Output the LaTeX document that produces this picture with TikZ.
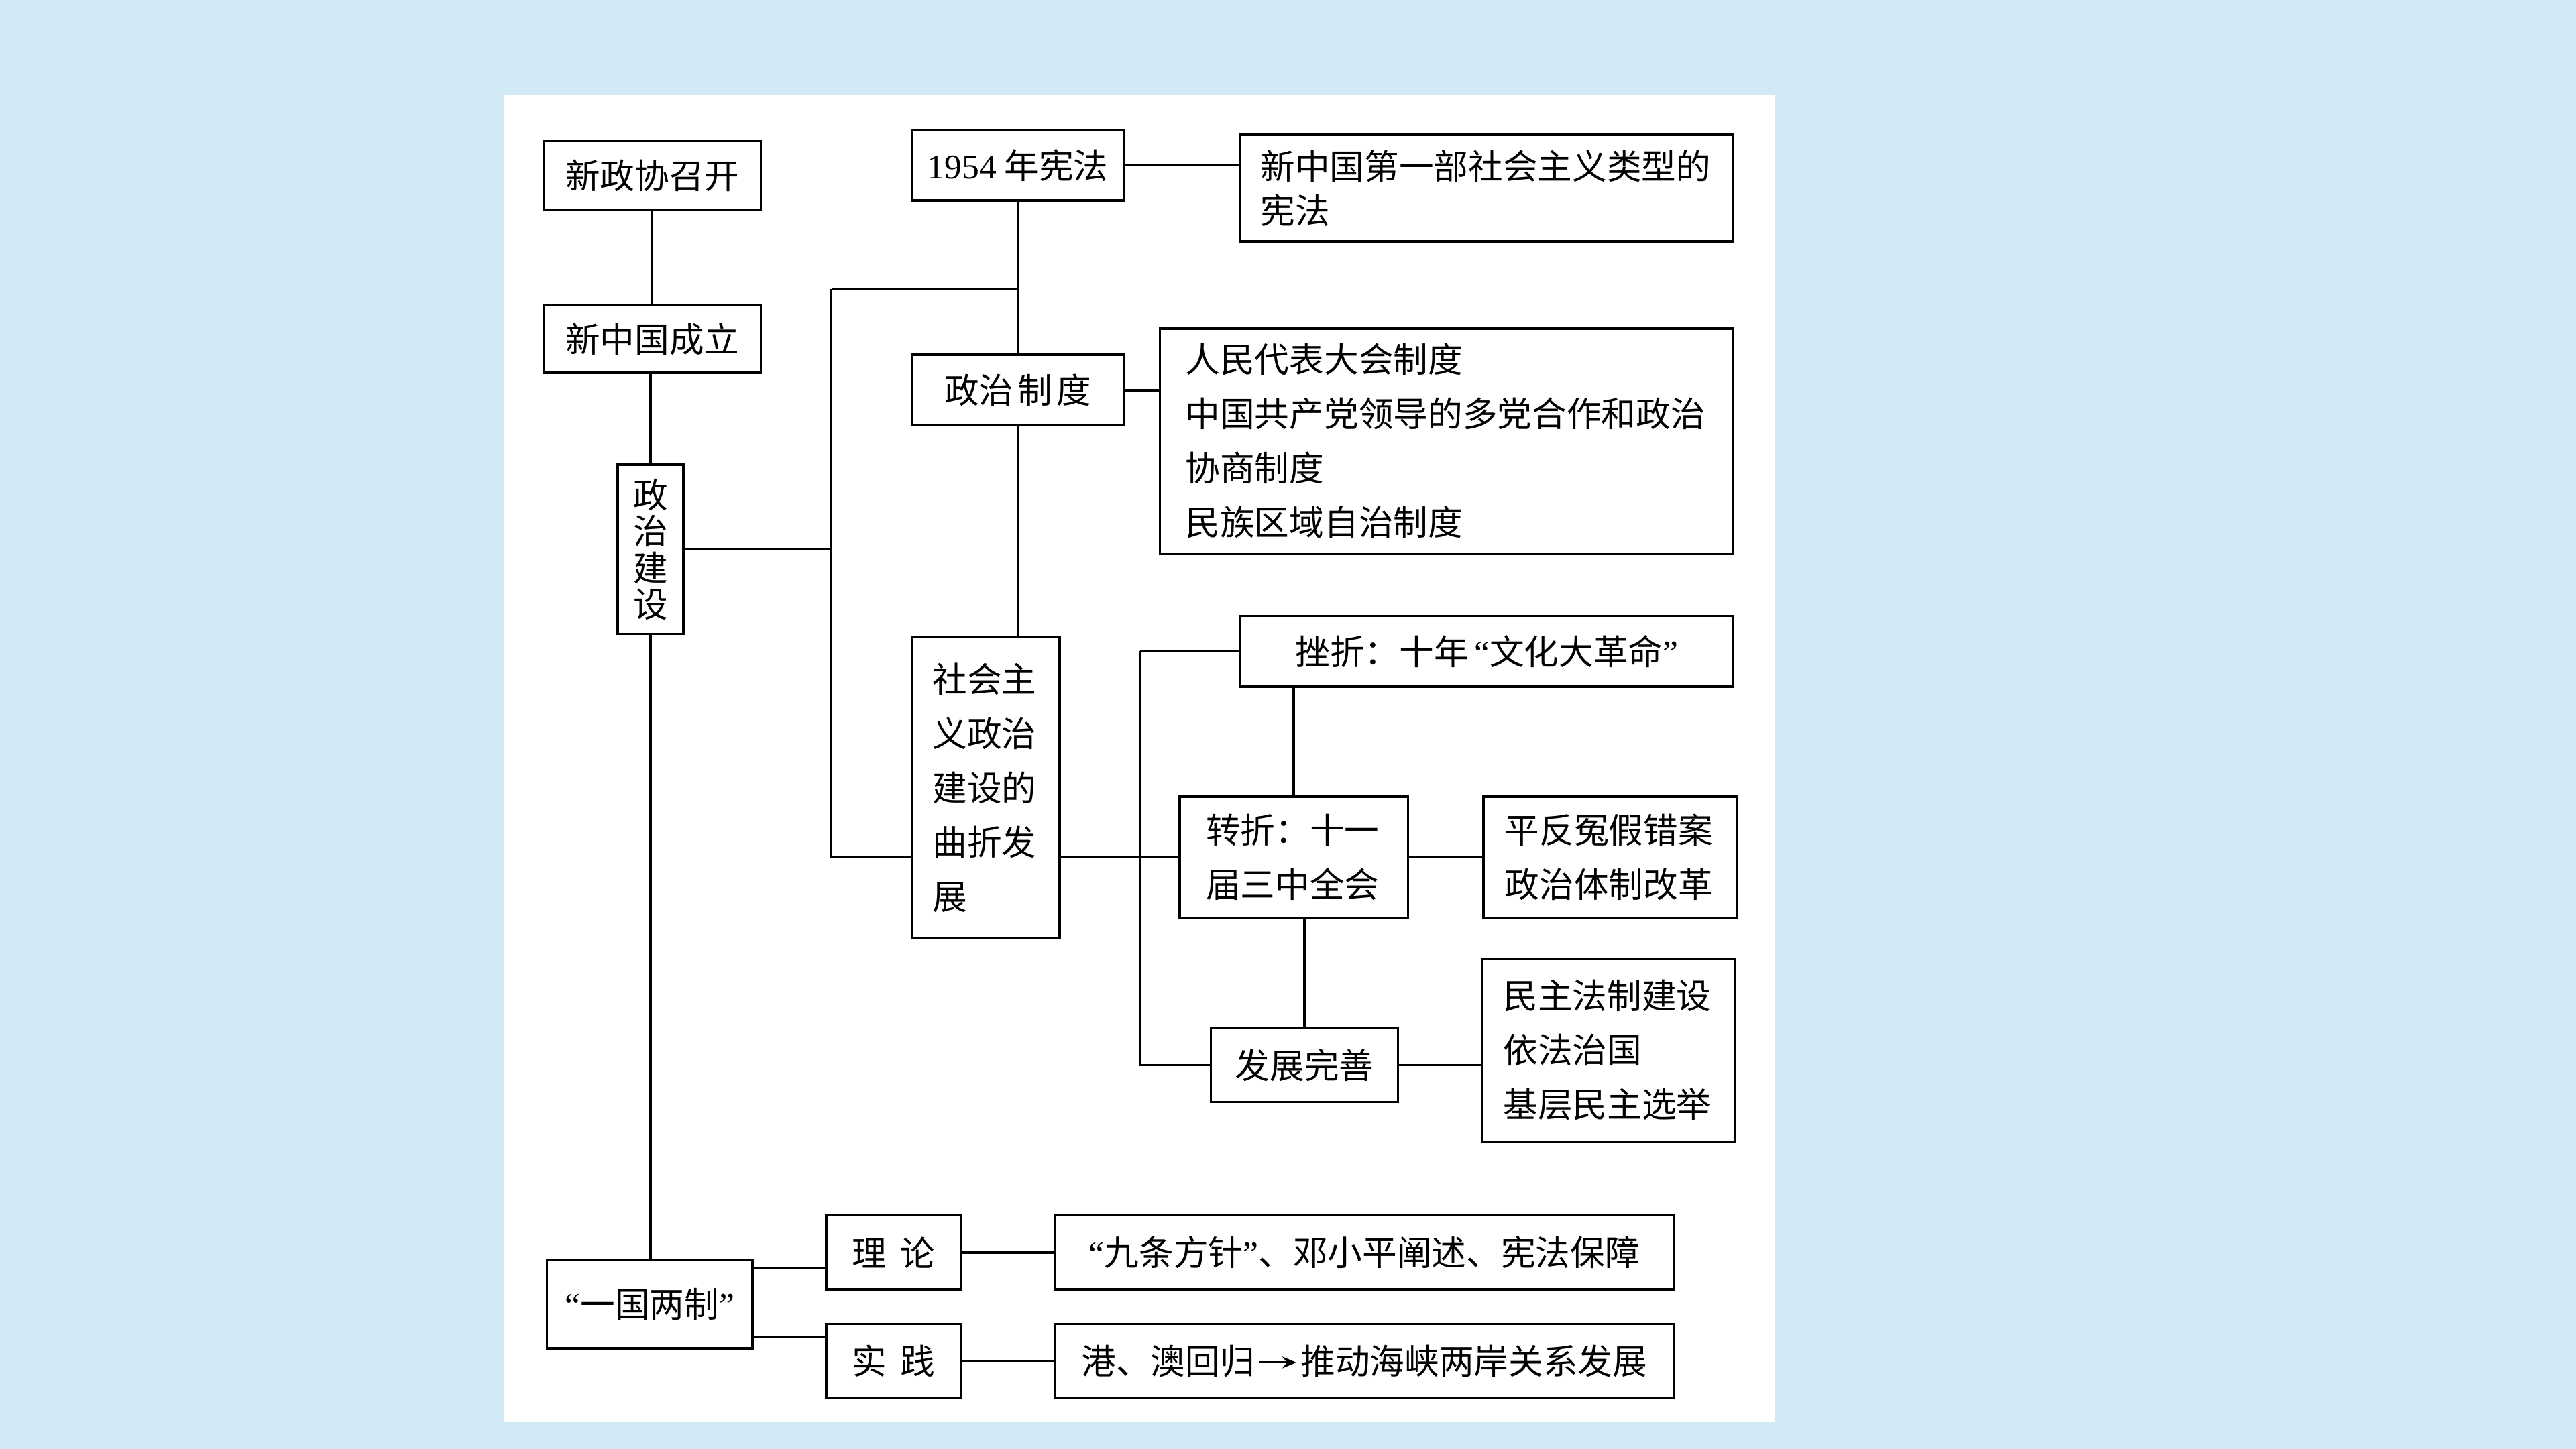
\documentclass[tikz,border=0pt]{standalone}
\usepackage{fontspec}
\setmainfont{Liberation Serif}
\newfontfamily\cjk{Noto Sans CJK SC}
\usetikzlibrary{arrows.meta,calc}
\definecolor{bgblue}{HTML}{D2EAF5}
\newcommand\qL{{\rmfamily “}}
\newcommand\qR{{\rmfamily ”}}
\newcommand\inarrow{\tikz[x=1pt,y=1pt,baseline=-5pt]\draw[line width=0.9pt,-{Stealth[length=6pt,width=5pt]}] (0,0)--(16,0);}
\begin{document}
\begin{tikzpicture}[x=0.025cm,y=-0.025cm,
  box/.style={draw, line width=1pt, fill=white, inner sep=0pt, font=\cjk\fontsize{15}{23.5}\selectfont},
  conn/.style={line width=1pt}]
\fill[bgblue] (0,0) rectangle (1568,882);
\fill[white] (307,58) rectangle (1080,866);
\useasboundingbox (0,0) rectangle (1568,882);

% left column
\node[box, minimum width=3.3cm, minimum height=1.05cm] (zxq) at (397,107) {新政协召开};
\node[box, minimum width=3.3cm, minimum height=1.025cm] (xzg) at (397,206.5) {新中国成立};
\node[box, minimum width=1.0cm, minimum height=2.575cm, align=center, font=\cjk\fontsize{15}{15.8}\selectfont] (zzjs) at (396,334.5) {政\\治\\建\\设};

% upper middle
\node[box, minimum width=3.225cm, minimum height=1.075cm] (xf) at (619.5,100.5) {{\rmfamily 1954} 年宪法};
\node[box, minimum width=7.5cm, minimum height=1.625cm, text width=196pt, align=left, font=\cjk\fontsize{15}{19.2}\selectfont] (xfd) at (905,114.5) {新中国第一部社会主义类型的\\宪法};
\node[box, minimum width=3.225cm, minimum height=1.075cm] (zzzd) at (619.5,237.5) {政治\hspace{0.12em}制\hspace{0.12em}度};
\node[box, minimum width=8.725cm, minimum height=3.425cm, text width=226pt, align=left] (rmdb) at (880.5,268.5) {人民代表大会制度\\中国共产党领导的多党合作和政治\\协商制度\\民族区域自治制度};
\node[box, minimum width=2.25cm, minimum height=4.575cm, text width=46pt, align=left] (shzy) at (600,479.5) {社会主\\义政治\\建设的\\曲折发\\展};

% right branch
\node[box, minimum width=7.5cm, minimum height=1.075cm] (cz) at (905,396.5) {挫折：十年\,\qL 文化大革命\qR};
\node[box, minimum width=3.475cm, minimum height=1.85cm, text width=76pt, align=left] (zz) at (787.5,522) {转折：十一\\届三中全会};
\node[box, minimum width=3.85cm, minimum height=1.85cm, text width=91pt, align=left] (pf) at (980,522) {平反冤假错案\\政治体制改革};
\node[box, minimum width=2.85cm, minimum height=1.125cm] (fzws) at (794,648.5) {发展完善};
\node[box, minimum width=3.85cm, minimum height=2.775cm, text width=91pt, align=left] (mzfz) at (979,639.5) {民主法制建设\\依法治国\\基层民主选举};

% bottom
\node[box, minimum width=3.125cm, minimum height=1.35cm] (ygl) at (395.5,794) {\qL 一国两制\qR};
\node[box, minimum width=2.05cm, minimum height=1.125cm] (ll) at (544,762.5) {理\hspace{0.4em}论};
\node[box, minimum width=2.05cm, minimum height=1.125cm] (sj) at (544,828.5) {实\hspace{0.4em}践};
\node[box, minimum width=9.425cm, minimum height=1.125cm] (jt) at (830.5,762.5) {\qL 九条方针\qR 、邓小平阐述、宪法保障};
\node[box, minimum width=9.425cm, minimum height=1.125cm] (gao) at (830.5,828.5) {港、澳回归\hspace{0.1em}\inarrow\hspace{0.1em}推动海峡两岸关系发展};

% helper coordinates
\coordinate (ta) at (506,176);
\coordinate (tb) at (506,522);
\coordinate (tcx) at (694,0);
\coordinate (ya) at (0,772);
\coordinate (yb) at (0,814);

% connectors
\draw[conn] (zxq.south) -- (zxq.south |- xzg.north);
\draw[conn] (xzg.south -| zzjs.north) -- (zzjs.north);
\draw[conn] (zzjs.south) -- (zzjs.south |- ygl.north);
\draw[conn] (zzjs.east) -- (zzjs.east -| ta);
\draw[conn] (ta) -- (tb);
\draw[conn] (ta) -- (ta -| xf.south);
\draw[conn] (tb) -- (tb -| shzy.west);
\draw[conn] (xf.south) -- (zzzd.north);
\draw[conn] (xf.east) -- (xf.east -| xfd.west);
\draw[conn] (zzzd.east) -- (zzzd.east -| rmdb.west);
\draw[conn] (zzzd.south) -- (zzzd.south |- shzy.north);
\draw[conn] (shzy.east |- zz.west) -- (zz.west);
\draw[conn] (cz.west -| tcx) -- (cz.west);
\draw[conn] (cz.west -| tcx) -- (fzws.west -| tcx) -- (fzws.west);
\draw[conn] (zz.north) -- (zz.north |- cz.south);
\draw[conn] (fzws.north) -- (fzws.north |- zz.south);
\draw[conn] (zz.east) -- (zz.east -| pf.west);
\draw[conn] (fzws.east) -- (fzws.east -| mzfz.west);
\draw[conn] (ygl.east |- ya) -- (ll.west |- ya);
\draw[conn] (ygl.east |- yb) -- (sj.west |- yb);
\draw[conn] (ll) -- (jt);
\draw[conn] (sj) -- (gao);
\end{tikzpicture}
\end{document}
